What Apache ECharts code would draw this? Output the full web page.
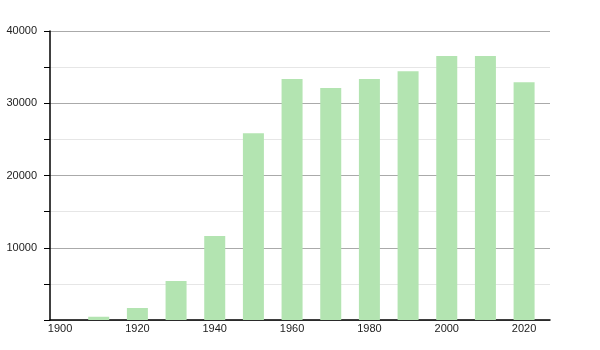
<!DOCTYPE html>
<html><head><meta charset="utf-8">
<script src="https://cdn.jsdelivr.net/npm/echarts@6/dist/echarts.min.js"></script>
<style>html,body{margin:0;padding:0;background:#fff}#c{width:600px;height:350px}</style>
</head><body><div id="c"></div>
<script>
const years = [1910, 1920, 1930, 1940, 1950, 1960, 1970, 1980, 1990, 2000, 2010, 2020];
const population = [450, 1660, 5400, 11630, 25840, 33360, 32110, 33360, 34420, 36540, 36540, 32900];
const xTickLabels = [1900, 1920, 1940, 1960, 1980, 2000, 2020];
const yTickLabels = [10000, 20000, 30000, 40000];

const chart = echarts.init(document.getElementById('c'), null, {renderer: 'canvas'});
chart.setOption({
  animation: false,
  grid: {left: 50, right: 50, top: 31, bottom: 30, containLabel: false},
  xAxis: {
    type: 'value', min: 1897.4, max: 2026.7,
    axisLine: {show: true, onZero: false, lineStyle: {color: '#000', width: 1.5}},
    axisTick: {show: false},
    splitLine: {show: false},
    axisLabel: {customValues: xTickLabels, showMinLabel: true, showMaxLabel: true,
      formatter: v => String(v),
      color: '#222', fontFamily: 'Liberation Sans', fontSize: 11, margin: 3}
  },
  yAxis: {
    type: 'value', min: 0, max: 40000, interval: 10000,
    axisLine: {show: true, lineStyle: {color: '#000', width: 1.5}},
    axisTick: {show: true, length: 6, lineStyle: {color: '#000'}},
    minorTick: {show: true, splitNumber: 2, length: 6, lineStyle: {color: '#000'}},
    splitLine: {show: true, lineStyle: {color: '#aaaaaa'}},
    minorSplitLine: {show: true, lineStyle: {color: '#e6e6e6'}},
    axisLabel: {color: '#222', fontFamily: 'Liberation Sans', fontSize: 11, margin: 13,
      formatter: v => yTickLabels.includes(v) ? String(v) : ''}
  },
  series: [{
    type: 'bar',
    data: years.map((y, i) => [y, population[i]]),
    barWidth: 21,
    itemStyle: {color: '#b3e4b1'}
  }]
});
</script></body></html>
